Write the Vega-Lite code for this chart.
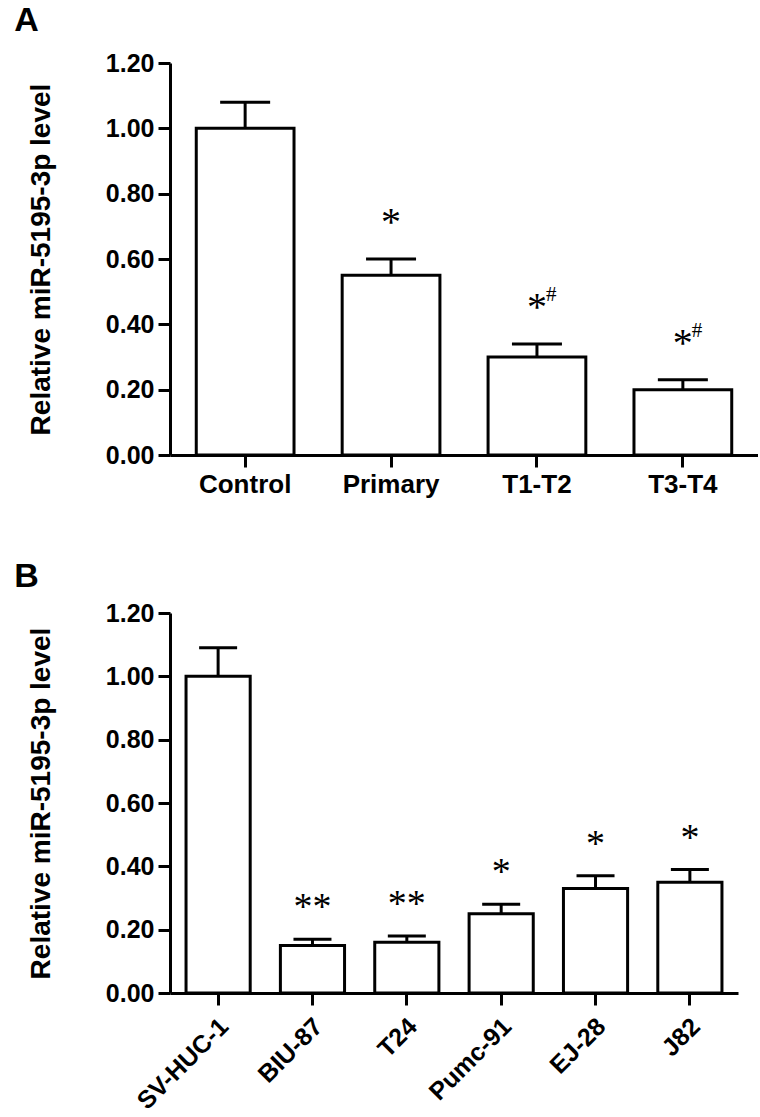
{
  "$schema": "https://vega.github.io/schema/vega-lite/v6.json",
  "background": "white",
  "padding": {"left": 14, "top": 4, "right": 0, "bottom": 0},
  "spacing": 62,
  "datasets": {
    "A": [
      {"group": "Control", "value": 1.00, "err": 1.08, "star": "", "hash": ""},
      {"group": "Primary", "value": 0.55, "err": 0.60, "star": "*", "hash": ""},
      {"group": "T1-T2", "value": 0.30, "err": 0.34, "star": "*", "hash": "#"},
      {"group": "T3-T4", "value": 0.20, "err": 0.23, "star": "*", "hash": "#"}
    ],
    "B": [
      {"group": "SV-HUC-1", "value": 1.00, "err": 1.09, "star": ""},
      {"group": "BIU-87", "value": 0.15, "err": 0.17, "star": "**"},
      {"group": "T24", "value": 0.16, "err": 0.18, "star": "**"},
      {"group": "Pumc-91", "value": 0.25, "err": 0.28, "star": "*"},
      {"group": "EJ-28", "value": 0.33, "err": 0.37, "star": "*"},
      {"group": "J82", "value": 0.35, "err": 0.39, "star": "*"}
    ]
  },
  "config": {
    "view": {"stroke": null},
    "font": "Liberation Sans",
    "axis": {
      "grid": false,
      "domainColor": "black",
      "domainWidth": 3,
      "tickColor": "black",
      "tickWidth": 3,
      "tickSize": 12,
      "labelFont": "Liberation Sans",
      "labelFontWeight": "bold",
      "labelFontSize": 25,
      "labelColor": "black",
      "titleFont": "Liberation Sans",
      "titleFontWeight": "bold",
      "titleFontSize": 28,
      "titleColor": "black"
    }
  },
  "vconcat": [
    {
      "title": {"text": "A", "anchor": "start", "frame": "bounds", "fontSize": 34, "fontWeight": "bold", "font": "Liberation Sans", "color": "black", "dx": -13, "offset": 4},
      "width": 588,
      "height": 392,
      "data": {"name": "A"},
      "encoding": {
        "x": {
          "field": "group", "type": "nominal", "sort": null,
          "scale": {"paddingInner": 0.33, "paddingOuter": 0.18},
          "axis": {"title": null, "labelAngle": 0, "labelPadding": 4, "labelFontSize": 26}
        }
      },
      "layer": [
        {
          "mark": {"type": "rule", "stroke": "black", "strokeWidth": 3},
          "encoding": {
            "y": {"field": "value", "type": "quantitative", "scale": {"domain": [0, 1.2]},
              "axis": {"title": "Relative miR-5195-3p level", "values": [0, 0.2, 0.4, 0.6, 0.8, 1.0, 1.2], "format": ".2f", "titlePadding": 50, "labelPadding": 4}},
            "y2": {"field": "err"}
          }
        },
        {
          "mark": {"type": "tick", "size": 50, "thickness": 3, "color": "black", "opacity": 1},
          "encoding": {"y": {"field": "err", "type": "quantitative", "title": "Relative miR-5195-3p level"}}
        },
        {
          "mark": {"type": "bar", "fill": "white", "stroke": "black", "strokeWidth": 3},
          "encoding": {"y": {"field": "value", "type": "quantitative", "title": "Relative miR-5195-3p level"}}
        },
        {
          "mark": {"type": "text", "font": "Liberation Serif", "fontSize": 40, "color": "black", "baseline": "middle", "dy": -36},
          "encoding": {"y": {"field": "err", "type": "quantitative", "title": "Relative miR-5195-3p level"}, "text": {"field": "star"}}
        },
        {
          "mark": {"type": "text", "font": "Liberation Serif", "fontSize": 21, "color": "black", "baseline": "middle", "align": "left", "dx": 9, "dy": -49},
          "encoding": {"y": {"field": "err", "type": "quantitative", "title": "Relative miR-5195-3p level"}, "text": {"field": "hash"}}
        }
      ]
    },
    {
      "title": {"text": "B", "anchor": "start", "frame": "bounds", "fontSize": 34, "fontWeight": "bold", "font": "Liberation Sans", "color": "black", "dx": -13, "offset": 4},
      "width": 568,
      "height": 380,
      "data": {"name": "B"},
      "encoding": {
        "x": {
          "field": "group", "type": "nominal", "sort": null,
          "scale": {"paddingInner": 0.32, "paddingOuter": 0.17},
          "axis": {"title": null, "labelAngle": -45, "labelAlign": "right", "labelBaseline": "middle", "labelPadding": 17, "labelOffset": 6, "labelFontSize": 25}
        }
      },
      "layer": [
        {
          "mark": {"type": "rule", "stroke": "black", "strokeWidth": 3},
          "encoding": {
            "y": {"field": "value", "type": "quantitative", "scale": {"domain": [0, 1.2]},
              "axis": {"title": "Relative miR-5195-3p level", "values": [0, 0.2, 0.4, 0.6, 0.8, 1.0, 1.2], "format": ".2f", "titlePadding": 50, "labelPadding": 4}},
            "y2": {"field": "err"}
          }
        },
        {
          "mark": {"type": "tick", "size": 38, "thickness": 3, "color": "black", "opacity": 1},
          "encoding": {"y": {"field": "err", "type": "quantitative", "title": "Relative miR-5195-3p level"}}
        },
        {
          "mark": {"type": "bar", "fill": "white", "stroke": "black", "strokeWidth": 3},
          "encoding": {"y": {"field": "value", "type": "quantitative", "title": "Relative miR-5195-3p level"}}
        },
        {
          "mark": {"type": "text", "font": "Liberation Serif", "fontSize": 38, "color": "black", "baseline": "middle", "dy": -31},
          "encoding": {"y": {"field": "err", "type": "quantitative", "title": "Relative miR-5195-3p level"}, "text": {"field": "star"}}
        }
      ]
    }
  ]
}
